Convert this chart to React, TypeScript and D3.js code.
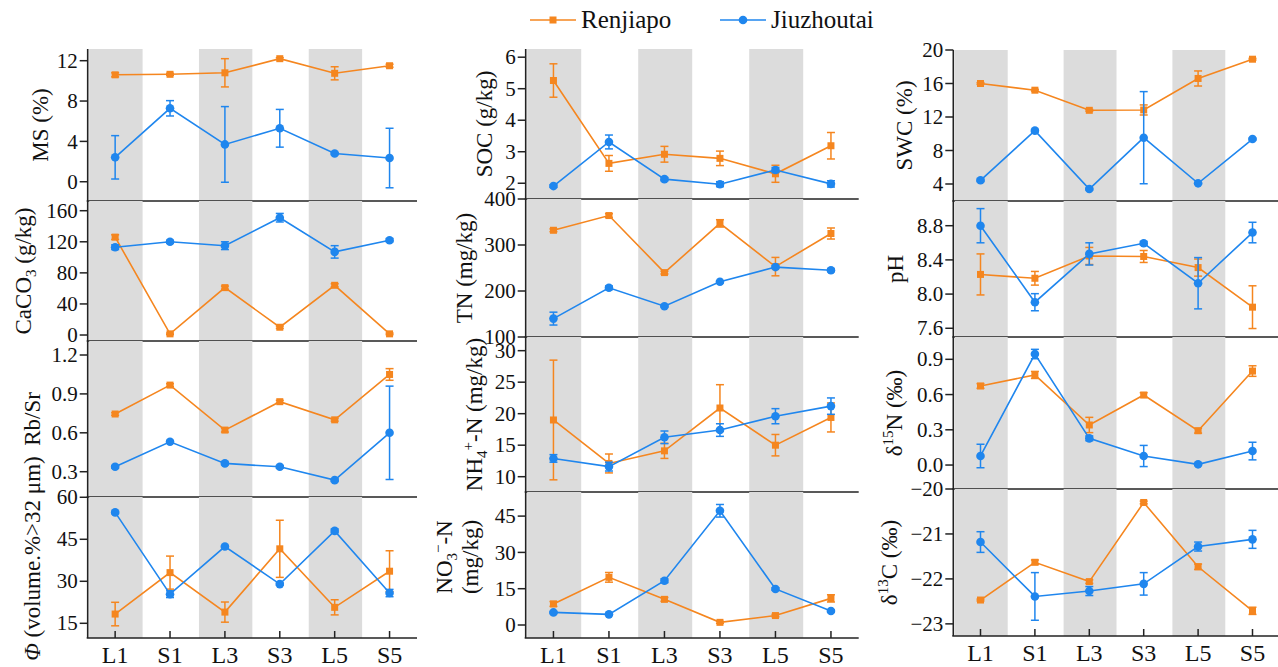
import React from "react";
import * as d3 from "d3";

// ---------- data ----------
const categories = ["L1", "S1", "L3", "S3", "L5", "S5"];
const shadedCategories = ["L1", "L3", "L5"];
const seriesNames = ["Renjiapo", "Jiuzhoutai"];

// MS (%)
const msRen = [10.6, 10.65, 10.8, 12.2, 10.75, 11.5];
const msRenErr = [0.2, 0.1, 1.4, 0.1, 0.65, 0.15];
const msJiu = [2.42, 7.28, 3.7, 5.3, 2.8, 2.35];
const msJiuErr = [2.15, 0.76, 3.75, 1.87, 0.1, 2.95];

// CaCO3 (g/kg)
const caRen = [126, 1.5, 61, 10, 64, 1.5];
const caRenErr = [3, 1, 2, 1.5, 2, 1];
const caJiu = [113, 120, 115, 151, 107, 122];
const caJiuErr = [3, 2, 5, 5.5, 8, 2];

// Rb/Sr
const rbRen = [0.745, 0.968, 0.621, 0.84, 0.70, 1.05];
const rbRenErr = [0.01, 0.01, 0.015, 0.01, 0.01, 0.045];
const rbJiu = [0.338, 0.531, 0.364, 0.338, 0.235, 0.60];
const rbJiuErr = [0.01, 0.01, 0.01, 0.01, 0.01, 0.36];

// Φ (volume.% > 32 μm)
const phiRen = [18.3, 33.1, 19.0, 41.6, 20.7, 33.6];
const phiRenErr = [4.2, 5.9, 3.6, 10.2, 2.7, 7.3];
const phiJiu = [54.6, 25.4, 42.4, 29.0, 48.0, 25.8];
const phiJiuErr = [0.4, 1.2, 0.4, 0.4, 0.7, 1.3];

// SOC (g/kg)
const socRen = [5.26, 2.63, 2.92, 2.79, 2.3, 3.19];
const socRenErr = [0.53, 0.25, 0.25, 0.23, 0.27, 0.42];
const socJiu = [1.91, 3.31, 2.13, 1.97, 2.42, 1.98];
const socJiuErr = [0.04, 0.22, 0.05, 0.08, 0.08, 0.1];

// TN (mg/kg)
const tnRen = [332, 364, 240, 347, 253, 325];
const tnRenErr = [3, 4, 3, 8, 20, 12];
const tnJiu = [140, 207, 167, 220, 252, 245];
const tnJiuErr = [14, 4, 2, 2, 3, 3];

// NH4+-N (mg/kg)
const nhRen = [19.0, 12.1, 14.1, 20.9, 15.0, 19.4];
const nhRenErr = [9.5, 1.5, 1.2, 3.7, 1.7, 2.3];
const nhJiu = [12.9, 11.6, 16.25, 17.4, 19.6, 21.2];
const nhJiuErr = [0.6, 0.7, 1.0, 1.0, 1.2, 1.3];

// NO3--N (mg/kg)
const noRen = [8.7, 19.7, 10.6, 1.1, 3.9, 11.0];
const noRenErr = [1.0, 2.0, 0.8, 0.4, 0.5, 1.5];
const noJiu = [5.2, 4.4, 18.3, 47.2, 14.9, 5.8];
const noJiuErr = [0.4, 0.4, 0.8, 2.6, 0.5, 0.4];

// SWC (%)
const swcRen = [16.0, 15.2, 12.8, 12.84, 16.6, 18.9];
const swcRenErr = [0.1, 0.1, 0.1, 0.6, 0.9, 0.1];
const swcJiu = [4.44, 10.37, 3.4, 9.53, 4.08, 9.37];
const swcJiuErr = [0.15, 0.15, 0.1, 5.5, 0.1, 0.1];

// pH
const phRen = [8.23, 8.185, 8.446, 8.44, 8.31, 7.847];
const phRenErr = [0.24, 0.08, 0.1, 0.07, 0.1, 0.25];
const phJiu = [8.8, 7.905, 8.47, 8.594, 8.127, 8.72];
const phJiuErr = [0.2, 0.1, 0.13, 0.02, 0.3, 0.12];

// δ15N (‰)
const d15Ren = [0.673, 0.767, 0.341, 0.596, 0.292, 0.80];
const d15RenErr = [0.02, 0.03, 0.065, 0.02, 0.02, 0.045];
const d15Jiu = [0.077, 0.945, 0.227, 0.077, 0.006, 0.119];
const d15JiuErr = [0.1, 0.04, 0.02, 0.09, 0.01, 0.075];

// δ13C (‰)
const d13Ren = [-22.47, -21.63, -22.06, -20.3, -21.73, -22.71];
const d13RenErr = [0.02, 0.05, 0.04, 0.03, 0.06, 0.08];
const d13Jiu = [-21.18, -22.39, -22.27, -22.11, -21.28, -21.12];
const d13JiuErr = [0.23, 0.53, 0.1, 0.25, 0.1, 0.2];

// ---------- style / layout ----------
const ORANGE = "#F5861F";
const BLUE = "#1F86EE";
const GRAY = "#DCDCDC";
const FONT = "'Liberation Serif', 'Times New Roman', 'DejaVu Serif', serif";

const cols = [
  { left: 87.7, right: 417 },
  { left: 525.7, right: 858.7 },
  { left: 953.3, right: 1279.7 },
];
const rowBounds = [
  [49, 201, 341, 497, 638],
  [49, 199, 337, 492, 638],
  [50, 201, 337, 489, 636],
];

const minus = (v: number) => (v < 0 ? "\u2212" + Math.abs(v) : String(v));

type PanelCfg = {
  col: number; row: number; domain: [number, number]; ticks: number[];
  fmt: (v: number) => string; ren: number[]; renErr: number[]; jiu: number[]; jiuErr: number[];
  title: React.ReactNode; titleX: number; titleShift?: number;
};

const panels: PanelCfg[] = [
  { col: 0, row: 0, domain: [-1.91, 13.16], ticks: [0, 4, 8, 12], fmt: String, ren: msRen, renErr: msRenErr, jiu: msJiu, jiuErr: msJiuErr, title: "MS (%)", titleX: 48 },
  { col: 0, row: 1, domain: [-7.7, 172.5], ticks: [0, 40, 80, 120, 160], fmt: String, ren: caRen, renErr: caRenErr, jiu: caJiu, jiuErr: caJiuErr,
    title: <>CaCO<tspan dy={5} fontSize={15}>3</tspan><tspan dy={-5}> (g/kg)</tspan></>, titleX: 31 },
  { col: 0, row: 2, domain: [0.105, 1.308], ticks: [0.3, 0.6, 0.9, 1.2], fmt: d3.format(".1f"), ren: rbRen, renErr: rbRenErr, jiu: rbJiu, jiuErr: rbJiuErr, title: "Rb/Sr", titleX: 40 },
  { col: 0, row: 3, domain: [9.75, 60.1], ticks: [15, 30, 45, 60], fmt: String, ren: phiRen, renErr: phiRenErr, jiu: phiJiu, jiuErr: phiJiuErr,
    title: <><tspan fontStyle="italic">Φ</tspan> (volume.%&gt;32 μm)</>, titleX: 40, titleShift: -9 },
  { col: 1, row: 0, domain: [1.5, 6.26], ticks: [2, 3, 4, 5, 6], fmt: String, ren: socRen, renErr: socRenErr, jiu: socJiu, jiuErr: socJiuErr, title: "SOC (g/kg)", titleX: 492 },
  { col: 1, row: 1, domain: [100, 400], ticks: [100, 200, 300, 400], fmt: String, ren: tnRen, renErr: tnRenErr, jiu: tnJiu, jiuErr: tnJiuErr, title: "TN (mg/kg)", titleX: 472 },
  { col: 1, row: 2, domain: [7.57, 32.17], ticks: [10, 15, 20, 25, 30], fmt: String, ren: nhRen, renErr: nhRenErr, jiu: nhJiu, jiuErr: nhJiuErr,
    title: <>NH<tspan dy={5} fontSize={15}>4</tspan><tspan dy={-14} fontSize={15}>+</tspan><tspan dy={9}>-N (mg/kg)</tspan></>, titleX: 482 },
  { col: 1, row: 3, domain: [-5.37, 54.96], ticks: [0, 15, 30, 45], fmt: String, ren: noRen, renErr: noRenErr, jiu: noJiu, jiuErr: noJiuErr,
    title: null, titleX: 0 },
  { col: 2, row: 0, domain: [1.97, 20.0], ticks: [4, 8, 12, 16, 20], fmt: String, ren: swcRen, renErr: swcRenErr, jiu: swcJiu, jiuErr: swcJiuErr, title: "SWC (%)", titleX: 912 },
  { col: 2, row: 1, domain: [7.498, 9.089], ticks: [7.6, 8.0, 8.4, 8.8], fmt: d3.format(".1f"), ren: phRen, renErr: phRenErr, jiu: phJiu, jiuErr: phJiuErr, title: "pH", titleX: 903 },
  { col: 2, row: 2, domain: [-0.204, 1.09], ticks: [0, 0.3, 0.6, 0.9], fmt: d3.format(".1f"), ren: d15Ren, renErr: d15RenErr, jiu: d15Jiu, jiuErr: d15JiuErr,
    title: <>δ<tspan dy={-9} fontSize={15}>15</tspan><tspan dy={9}>N (‰)</tspan></>, titleX: 902 },
  { col: 2, row: 3, domain: [-23.27, -20.0], ticks: [-20, -21, -22, -23], fmt: minus, ren: d13Ren, renErr: d13RenErr, jiu: d13Jiu, jiuErr: d13JiuErr,
    title: <>δ<tspan dy={-9} fontSize={15}>13</tspan><tspan dy={9}>C (‰)</tspan></>, titleX: 897 },
];

const TICK_FS = 21;
const TITLE_FS = 23;

function Series({ vals, errs, color, marker, x, y }: any) {
  const line = d3.line<number>().x((_, i) => x(categories[i])).y((d) => y(d));
  return (
    <g>
      <path d={line(vals) || ""} fill="none" stroke={color} strokeWidth={1.6} />
      {vals.map((v: number, i: number) => {
        const cx = x(categories[i]);
        const y1 = y(v + errs[i]);
        const y2 = y(v - errs[i]);
        return (
          <g key={i}>
            <line x1={cx} x2={cx} y1={y1} y2={y2} stroke={color} strokeWidth={1.5} />
            <line x1={cx - 4} x2={cx + 4} y1={y1} y2={y1} stroke={color} strokeWidth={1.5} />
            <line x1={cx - 4} x2={cx + 4} y1={y2} y2={y2} stroke={color} strokeWidth={1.5} />
            {marker === "square" ? (
              <rect x={cx - 3.5} y={y(v) - 3.5} width={7} height={7} fill={color} />
            ) : (
              <circle cx={cx} cy={y(v)} r={4.3} fill={color} />
            )}
          </g>
        );
      })}
    </g>
  );
}

function Panel({ p }: { p: PanelCfg }) {
  const col = cols[p.col];
  const top = rowBounds[p.col][p.row];
  const bottom = rowBounds[p.col][p.row + 1];
  const band = d3.scaleBand<string>().domain(categories).range([col.left, col.right]).padding(0);
  const xc = (c: string) => (band(c) as number) + band.bandwidth() / 2;
  const y = d3.scaleLinear().domain(p.domain).range([bottom, top]);
  const yc = (top + bottom) / 2 + (p.titleShift || 0);
  const isBottom = p.row === 3;
  return (
    <g>
      {shadedCategories.map((c) => (
        <rect key={c} x={(band(c) as number) + 1.5} y={top} width={band.bandwidth() - 1.5} height={bottom - top} fill={GRAY} />
      ))}
      <Series vals={p.ren} errs={p.renErr} color={ORANGE} marker="square" x={xc} y={y} />
      <Series vals={p.jiu} errs={p.jiuErr} color={BLUE} marker="circle" x={xc} y={y} />
      <line x1={col.left} x2={col.left} y1={top} y2={bottom} stroke="#222" strokeWidth={1.6} />
      <line x1={col.left - 1} x2={col.right} y1={bottom} y2={bottom} stroke="#222" strokeWidth={1.6} />
      {p.ticks.map((t) => (
        <g key={t}>
          <line x1={col.left - 8} x2={col.left} y1={y(t)} y2={y(t)} stroke="#222" strokeWidth={1.5} />
          <text x={col.left - 10} y={y(t)} dy="0.34em" textAnchor="end" fontSize={TICK_FS} fontFamily={FONT} fill="#111">
            {p.fmt(t)}
          </text>
        </g>
      ))}
      {isBottom &&
        categories.map((c) => (
          <g key={c}>
            <line x1={xc(c)} x2={xc(c)} y1={bottom} y2={bottom - 7} stroke="#222" strokeWidth={1.5} />
            <text x={xc(c)} y={bottom + 25} textAnchor="middle" fontSize={24} fontFamily={FONT} fill="#111">
              {c}
            </text>
          </g>
        ))}
      {p.title !== null ? (
        <text transform={`translate(${p.titleX},${yc}) rotate(-90)`} textAnchor="middle" fontSize={TITLE_FS} fontFamily={FONT} fill="#111">
          {p.title}
        </text>
      ) : (
        <text transform={`translate(0,${yc - 8}) rotate(-90)`} textAnchor="middle" fontSize={TITLE_FS} fontFamily={FONT} fill="#111">
          <tspan x={0} y={452}>NO<tspan dy={5} fontSize={15}>3</tspan><tspan dy={-14} fontSize={15}>−</tspan><tspan dy={9}>-N</tspan></tspan>
          <tspan x={0} y={478}>(mg/kg)</tspan>
        </text>
      )}
    </g>
  );
}

function Legend() {
  const items = [
    { name: seriesNames[0], color: ORANGE, marker: "square", x: 530 },
    { name: seriesNames[1], color: BLUE, marker: "circle", x: 720 },
  ];
  return (
    <g>
      {items.map((it) => (
        <g key={it.name}>
          <line x1={it.x} x2={it.x + 46} y1={20} y2={20} stroke={it.color} strokeWidth={1.6} />
          {it.marker === "square" ? (
            <rect x={it.x + 19.5} y={16.5} width={7} height={7} fill={it.color} />
          ) : (
            <circle cx={it.x + 23} cy={20} r={4.3} fill={it.color} />
          )}
          <text x={it.x + 51} y={27.5} fontSize={25} fontFamily={FONT} fill="#111">
            {it.name}
          </text>
        </g>
      ))}
    </g>
  );
}

export default function App() {
  return (
    <svg width={1278} height={667} style={{ position: "absolute", left: 0, top: 0, background: "#fff" }}>
      <rect width={1278} height={667} fill="#fff" />
      {panels.map((p, i) => (
        <Panel key={i} p={p} />
      ))}
      <Legend />
    </svg>
  );
}
